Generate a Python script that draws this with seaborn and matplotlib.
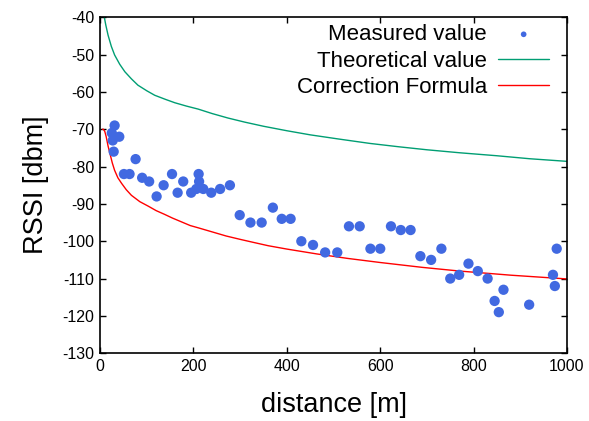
import matplotlib
matplotlib.use("Agg")
import matplotlib.pyplot as plt
import seaborn as sns

# measured points (distance [m], RSSI [dbm])
meas_dist = [25, 27, 29, 31, 41, 51, 63, 76, 90, 105, 121, 136, 154, 166, 178,
             195, 206, 211, 212, 221, 238, 257, 278, 299, 322, 346, 370, 389,
             408, 431, 456, 482, 508, 533, 556, 579, 600, 623, 644, 665, 686,
             709, 731, 750, 769, 789, 809, 830, 845, 854, 864, 919, 970, 974, 978]
meas_rssi = [-71, -73, -76, -69, -72, -82, -82, -78, -83, -84, -88, -85, -82, -87, -84,
             -87, -86, -82, -84, -86, -87, -86, -85, -93, -95, -95, -91, -94,
             -94, -100, -101, -103, -103, -96, -96, -102, -102, -96, -97, -97, -104,
             -105, -102, -110, -109, -106, -108, -110, -116, -119, -113, -117, -109, -112, -102]

# theoretical curve
theo_dist = [9, 12, 17, 24, 31, 42, 53, 67, 81, 100, 117, 140, 160, 185, 210,
             240, 274, 310, 350, 400, 450, 510, 578, 640, 700, 770, 850, 920, 1000]
theo_rssi = [-40, -42, -44.8, -47.8, -50.1, -52.6, -54.6, -56.5, -58.2, -59.7, -60.9,
             -62.0, -62.9, -63.8, -64.6, -65.8, -67.0, -68.1, -69.2, -70.4, -71.5,
             -72.6, -73.8, -74.7, -75.5, -76.3, -77.1, -77.9, -78.6]

# correction formula curve
corr_dist = [5, 7, 10, 13, 17, 21, 26, 31, 38, 46, 56, 67, 85, 103, 120, 138, 155, 174,
             193, 210, 240, 270, 300, 328, 360, 400, 464, 530, 600, 690, 771, 880, 1000]
corr_rssi = [-70, -70, -70.6, -72, -74.5, -76.5, -79, -81, -83, -84.5, -86.2, -87.7, -89.4,
             -90.6, -91.8, -92.8, -93.8, -94.8, -95.8, -96.4, -97.5, -98.6, -99.5,
             -100.3, -101.2, -102.1, -103.4, -104.6, -105.7, -107, -108, -109.1, -110.1]

sns.set_style("white")
plt.rcParams['font.family'] = ['Liberation Sans', 'DejaVu Sans']
plt.rcParams['axes.unicode_minus'] = False
plt.rcParams['text.color'] = 'black'
plt.rcParams['axes.labelcolor'] = 'black'

fig = plt.figure(figsize=(5.89, 4.21), dpi=100)
ax = fig.add_axes([0.170, 0.161, 0.7926, 0.798])

sns.scatterplot(x=meas_dist, y=meas_rssi, color='#4169e1', s=55, edgecolor='none',
                label='Measured value', ax=ax, zorder=3)
sns.lineplot(x=theo_dist, y=theo_rssi, color='#009e73', lw=1, label='Theoretical value', ax=ax)
sns.lineplot(x=corr_dist, y=corr_rssi, color='#ff0000', lw=1, label='Correction Formula', ax=ax)

ax.set_xlim(0, 1000)
ax.set_ylim(-130, -40)
ax.set_xticks(range(0, 1001, 200))
ax.set_yticks(range(-130, -39, 10))
ax.tick_params(direction='in', bottom=True, left=True, top=True, right=True,
               length=4, width=1, color='black', labelcolor='black',
               labelsize=11.5, pad=4)
for sp in ax.spines.values():
    sp.set_color('black')
    sp.set_linewidth(1.2)

ax.set_xlabel('distance [m]', fontsize=19.5, labelpad=13)
ax.set_ylabel('RSSI [dbm]', fontsize=19.5, labelpad=10)

ax.legend(loc='upper right', bbox_to_anchor=(0.981, 1.006), frameon=False,
          markerfirst=False, fontsize=16, handlelength=2.3, handletextpad=0.5,
          labelspacing=0.25, markerscale=0.55, borderaxespad=0.0)

fig.savefig('out.png', dpi=100)
